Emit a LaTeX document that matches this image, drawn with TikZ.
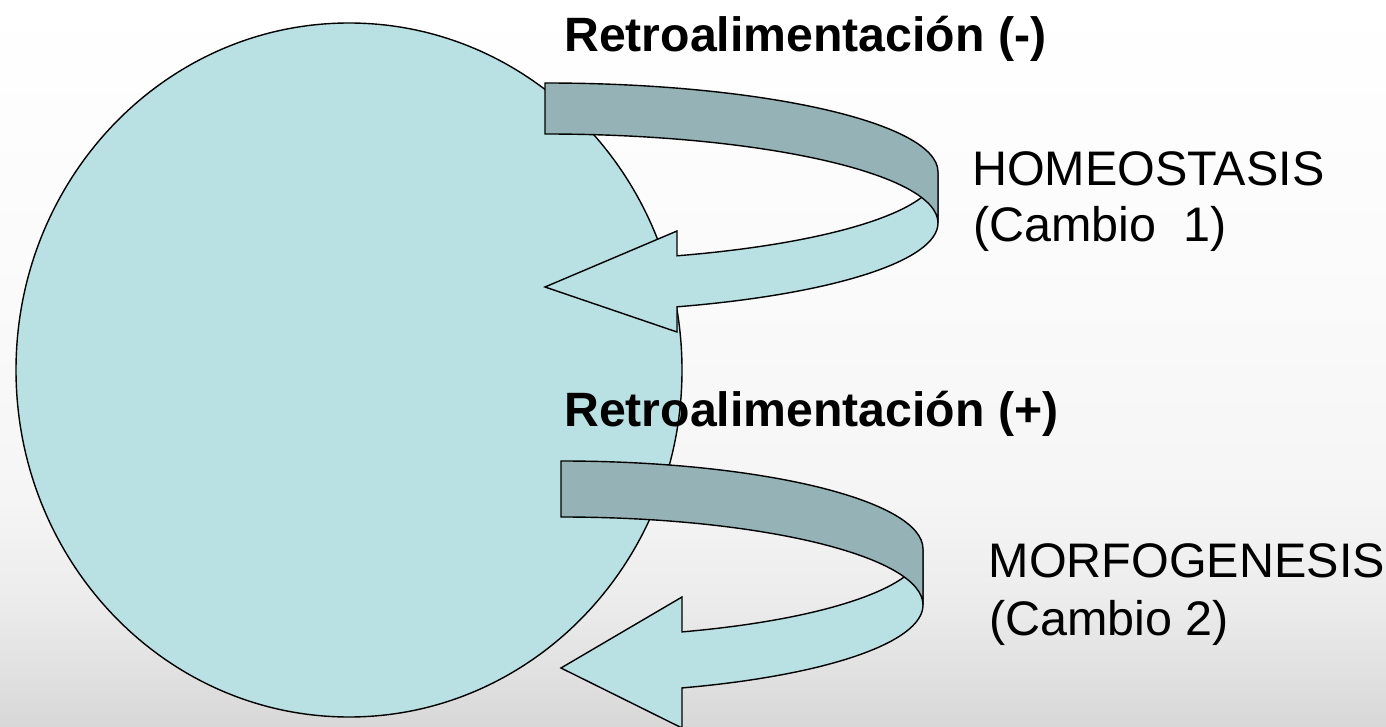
\documentclass[tikz,border=0pt]{standalone}
\usepackage{fontspec}
\setmainfont{Liberation Sans}
\usetikzlibrary{shapes.geometric}
\definecolor{cblue}{RGB}{185,224,227}
\definecolor{cgrey}{RGB}{149,179,182}
\definecolor{bgB}{RGB}{216,216,216}
\definecolor{bgA}{RGB}{236,236,236}
\definecolor{bgC}{RGB}{245,245,245}
\definecolor{bgD}{RGB}{250,250,250}
\pgfdeclareverticalshading{bgshade}{100bp}{color(0bp)=(bgB); color(25bp)=(bgB); color(33.7bp)=(bgA); color(40.6bp)=(bgC); color(54bp)=(bgD); color(75bp)=(white); color(100bp)=(white)}
\tikzset{
  outl/.style={draw=black, line width=1.4pt, line join=miter},
  sysc/.style={ellipse, draw=black, line width=1.4pt, fill=cblue, inner sep=0pt},
  bigbold/.style={font=\fontsize{48.2}{57}\selectfont\bfseries, inner sep=0pt, anchor=base west},
  bigreg/.style={font=\fontsize{48.5}{57}\selectfont, inner sep=0pt, anchor=base west}
}
\begin{document}
\begin{tikzpicture}[x=1pt,y=1pt]
\useasboundingbox (0,0) rectangle (1386,726);
\shade[shading=bgshade] (0,0) rectangle (1386,726);
% system circle
\node[sysc, minimum width=666pt, minimum height=694pt] (sys) at (349,356) {};
% upper curved arrow (front part)
\path[outl, fill=cblue] (677,470.2)
  arc[start angle=-70.37, end angle=0, x radius=393, y radius=89]
  -- (938,503)
  arc[start angle=0, end angle=-70.37, x radius=393, y radius=89]
  -- (677,394) -- (545,439) -- (677,495) -- cycle;
% upper curved arrow (back part)
\path[outl, fill=cgrey] (545,643)
  arc[start angle=90, end angle=0, x radius=393, y radius=89]
  -- (938,503)
  arc[start angle=0, end angle=90, x radius=393, y radius=89]
  -- cycle;
% lower curved arrow (front part)
\path[outl, fill=cblue] (682,94.1)
  arc[start angle=-70.47, end angle=0, x radius=362, y radius=88]
  -- (923,121)
  arc[start angle=0, end angle=-70.47, x radius=362, y radius=88]
  -- (682,-2) -- (561,58) -- (682,129) -- cycle;
% lower curved arrow (back part)
\path[outl, fill=cgrey] (561,265)
  arc[start angle=90, end angle=0, x radius=362, y radius=88]
  -- (923,121)
  arc[start angle=0, end angle=90, x radius=362, y radius=88]
  -- cycle;
% labels
\node[bigbold] (fbneg) at (564,674) {Retroalimentación (-)};
\node[bigbold] (fbpos) at (564,299) {Retroalimentación (+)};
\node[bigreg] (homeoA) at (972,540) {HOMEOSTASIS};
\node[bigreg] (homeoB) at (973,484) {(Cambio~~1)};
\node[bigreg] (morfoA) at (988.5,149) {MORFOGENESIS};
\node[bigreg] (morfoB) at (989,91) {(Cambio 2)};
\end{tikzpicture}
\end{document}
